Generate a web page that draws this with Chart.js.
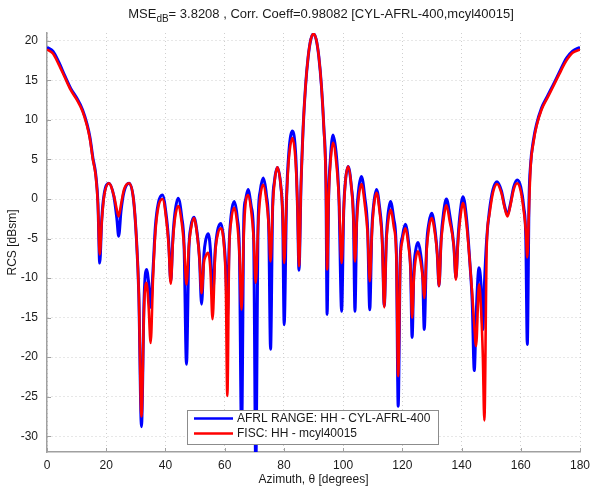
<!DOCTYPE html>
<html><head><meta charset="utf-8">
<script src="https://cdn.jsdelivr.net/npm/chart.js@4.4.0/dist/chart.umd.min.js"></script>
<style>html,body{margin:0;padding:0;background:#fff;} canvas{display:block;}</style>
</head><body>
<canvas id="c" width="590" height="491"></canvas>
<script>
const azimuth = [
  0, 2, 4, 6, 8, 10, 12, 13.5, 14.5, 15.5,
  16.5, 17.2, 17.8, 18.5, 19.3, 20.9, 22.6, 23.6, 24.2, 25.0,
  26.0, 27.7, 29.2, 30.2, 31.0, 31.9, 32.8, 33.6, 34.3, 35.0,
  35.8, 36.6, 37.6, 39.0, 40.4, 41.1, 41.8, 42.5, 43.2, 44.3,
  45.5, 46.3, 47.1, 47.9, 48.6, 49.6, 50.7, 51.5, 52.2, 53.0,
  53.6, 54.4, 55.2, 55.9, 56.8, 57.6, 58.7, 59.8, 60.4, 60.9,
  61.5, 62.2, 63.2, 64.3, 65.0, 65.7, 66.5, 67.0, 67.9, 69.0,
  69.8, 70.5, 71.3, 72.0, 73.0, 74.1, 74.9, 75.5, 76.2, 76.8,
  77.8, 79.0, 79.6, 80.1, 80.9, 81.7, 82.9, 84.0, 84.6, 85.1,
  85.8, 86.5, 87.3, 88.2, 89.1, 90.0, 90.9, 91.8, 92.7, 93.5,
  94.2, 94.6, 95.1, 95.7, 96.6, 97.8, 98.6, 99.5, 100.2, 100.8,
  101.7, 102.8, 103.5, 104.0, 104.6, 105.2, 106.2, 107.3, 108.3, 109.0,
  109.7, 110.3, 111.3, 112.3, 113.2, 113.9, 114.6, 115.1, 116.0, 117.1,
  118.0, 118.6, 119.3, 120.0, 121.0, 122.1, 122.8, 123.3, 123.9, 124.5,
  125.3, 126.2, 126.9, 127.4, 128.2, 129.0, 129.9, 131.0, 131.8, 132.4,
  133.1, 133.9, 134.9, 136.0, 137.4, 138.1, 138.8, 139.6, 140.5, 141.7,
  142.8, 143.6, 144.3, 144.9, 145.9, 146.6, 147.2, 147.7, 148.5, 149.4,
  150.6, 152.0, 153.5, 154.5, 155.5, 156.5, 157.6, 158.8, 160.0, 161.0,
  161.7, 162.2, 162.8, 163.3, 164.3, 165.3, 167.0, 169.0, 170.9, 173.0,
  175.4, 177.5, 180
];
const afrlRange = [
  19.2, 18.7, 17.3, 15.6, 14.0, 12.8, 11.3, 9.5, 7.8, 5.2,
  3.0, -0.5, -8.1, -2.5, 0.6, 2.0, 0.3, -2.5, -4.7, -1.5,
  0.9, 2.0, 0.0, -5.0, -12, -28.8, -12.5, -8.9, -10.5, -13.7,
  -9, -3.5, -0.5, 0.5, -2.5, -5.5, -10.4, -5, -1.8, 0.1,
  -2.3, -6, -20.9, -6.5, -3.5, -2.3, -4.3, -7.5, -13.3, -7,
  -5.2, -4.4, -6.5, -12.5, -6.5, -4, -3.1, -5.5, -9, -15,
  -6, -2, -0.3, -2.5, -7, -30, -2, -0.2, 1.2, -1.0,
  -5, -34, -3, 1.0, 2.65, 0.5, -4, -19, -1, 2.2,
  4.0, 1.5, -2.5, -15.9, 0, 6.0, 8.6, 5.5, -1, -9,
  2, 9, 14.2, 18.0, 20.2, 20.9, 20.2, 18.0, 14.2, 9,
  2, -14.6, 0, 5, 8.1, 5.2, 0, -14.2, -1.5, 2.3,
  4.1, 1.5, -2.5, -14.2, -2.5, 1, 2.85, 0.3, -4, -14.0,
  -4, -0.8, 1.2, -1, -5, -13.5, -5, -2.2, -0.3, -2.5,
  -7, -26.2, -7.5, -4.8, -3.2, -5.5, -9, -17.5, -9, -6.5,
  -5.5, -7, -10, -16.5, -6, -3, -1.8, -3.8, -7, -11,
  -5, -1.8, 0.0, -2, -6, -10, -5, -1.5, 0.3, -2.5,
  -8, -13, -21.7, -15, -8.7, -11, -16.5, -11, -5, -1.5,
  1.2, 2.2, 1.0, -0.8, -2.0, -0.6, 1.5, 2.4, 1.5, -1,
  -5, -18.4, 0, 4.3, 7.5, 9.4, 11.5, 13.0, 14.4, 16.0,
  17.8, 18.7, 19.2
];
const fiscHH = [
  18.9, 18.4, 17.0, 15.4, 13.8, 12.6, 11.1, 9.3, 7.6, 5.0,
  2.8, -0.8, -7.0, -2.8, 0.4, 2.0, 0.4, -1.4, -2.2, -0.7,
  1.2, 2.0, 0.0, -5.0, -12, -27.5, -13.5, -10.6, -13.5, -18.2,
  -10, -4.2, -1.0, 0.0, -3.0, -6.0, -10.7, -5.5, -2.5, -0.9,
  -3.0, -6, -10.8, -6, -3.8, -2.4, -4.5, -7.5, -11.9, -8,
  -7.2, -6.8, -9, -15.2, -7, -4.6, -3.7, -6, -11, -24.9,
  -7, -2.8, -1.1, -3.3, -7, -14.0, -4, -0.8, 0.5, -1.6,
  -5, -10.6, -3.5, 0.2, 1.8, -0.2, -3.5, -7.9, -1.2, 2.0,
  4.0, 1.5, -2, -8.1, 0, 5.2, 7.7, 4.5, -1, -8.5,
  2, 9, 14.2, 18.0, 20.2, 20.9, 20.2, 18.0, 14.2, 9,
  2, -8.9, 0, 4.5, 7.1, 4.2, 0, -8.1, -1.5, 2.3,
  4.1, 1.5, -2.5, -7.9, -3, 0, 1.9, -0.6, -4.5, -10.4,
  -4.5, -1.2, 0.8, -1.5, -5.5, -13.7, -5.5, -3.2, -1.35, -3.5,
  -7.5, -22.4, -8, -5.3, -3.7, -6, -9, -15.0, -10, -7.6,
  -6.6, -8, -10, -12.5, -6.5, -3.6, -2.4, -4.3, -7, -11,
  -5.5, -2.6, -0.8, -2.8, -6, -10.2, -5.5, -2.3, -0.5, -3.3,
  -8, -12, -16, -18.6, -10.8, -14, -20, -28.0, -6, -2,
  0.8, 1.9, 0.7, -1, -2.2, -0.8, 1.2, 2.0, 1.0, -1.5,
  -4, -7.4, -1, 4.0, 7.2, 9.2, 11.3, 12.8, 14.2, 15.8,
  17.5, 18.5, 18.9
];
const xTickValues = [0, 20, 40, 60, 80, 100, 120, 140, 160, 180];
const yTickValues = [-30, -25, -20, -15, -10, -5, 0, 5, 10, 15, 20];
const seriesNames = ['AFRL RANGE: HH - CYL-AFRL-400', 'FISC: HH - mcyl40015'];
const seriesColors = ['#0000ff', '#ff0000'];
const titleParts = ['MSE', 'dB', '= 3.8208 , Corr. Coeff=0.98082 [CYL-AFRL-400,mcyl40015]'];
const xAxisTitle = 'Azimuth, \u03b8 [degrees]';
const yAxisTitle = 'RCS [dBsm]';

const FONT = '"Liberation Sans", Arial, sans-serif';
const TXT = '#1a1a1a';
const AXC = '#a0a0a0';

const overlay = {
  id: 'overlay',
  afterDraw(chart) {
    const ctx = chart.ctx, a = chart.chartArea;
    const xs = chart.scales.x, ys = chart.scales.y;
    ctx.save();
    // inner tick marks
    ctx.strokeStyle = AXC; ctx.lineWidth = 1;
    ctx.beginPath();
    yTickValues.forEach(v => { const y = Math.round(ys.getPixelForValue(v)) + 0.5; ctx.moveTo(a.left, y); ctx.lineTo(a.left + 4, y); });
    xTickValues.forEach(v => { const x = Math.round(xs.getPixelForValue(v)) + 0.5; ctx.moveTo(x, a.bottom); ctx.lineTo(x, a.bottom - 4); });
    ctx.stroke();
    // title
    ctx.fillStyle = TXT; ctx.textBaseline = 'alphabetic';
    const f1 = '13px ' + FONT, f2 = '10px ' + FONT, f3 = '12px ' + FONT, fl = '12px ' + FONT;
    ctx.font = f1; const w1 = ctx.measureText(titleParts[0]).width, w3 = ctx.measureText(titleParts[2]).width;
    ctx.font = f2; const w2 = ctx.measureText(titleParts[1]).width;
    let tx = 321 - (w1 + w2 + w3) / 2;
    const ty = 18;
    ctx.font = f1; ctx.textAlign = 'left'; ctx.fillText(titleParts[0], tx, ty); tx += w1;
    ctx.font = f2; ctx.fillText(titleParts[1], tx, ty + 4); tx += w2;
    ctx.font = f1; ctx.fillText(titleParts[2], tx, ty);
    // axis titles
    ctx.font = f3; ctx.textAlign = 'center'; ctx.textBaseline = 'middle';
    ctx.fillText(xAxisTitle, (a.left + a.right) / 2, 480);
    ctx.save(); ctx.translate(13, (a.top + a.bottom) / 2); ctx.rotate(-Math.PI / 2);
    ctx.fillText(yAxisTitle, 0, 0); ctx.restore();
    // legend
    const lx = 187.5, ly = 410.5, lw = 251, lh = 34;
    ctx.fillStyle = '#fff'; ctx.fillRect(lx, ly, lw, lh);
    ctx.strokeStyle = '#8c8c8c'; ctx.lineWidth = 1; ctx.strokeRect(lx, ly, lw, lh);
    const rows = [418.5, 433.5];
    seriesNames.forEach((name, i) => {
      ctx.strokeStyle = seriesColors[i]; ctx.lineWidth = 2.5;
      ctx.beginPath(); ctx.moveTo(194, rows[i]); ctx.lineTo(233, rows[i]); ctx.stroke();
      ctx.fillStyle = TXT; ctx.font = fl; ctx.textAlign = 'left'; ctx.textBaseline = 'middle';
      ctx.fillText(name, 237, rows[i] + 0.5);
    });
    ctx.restore();
  }
};

const mk = arr => azimuth.map((x, i) => ({ x: x, y: arr[i] }));

new Chart(document.getElementById('c'), {
  type: 'line',
  data: {
    datasets: [
      { label: seriesNames[0], data: mk(afrlRange), borderColor: seriesColors[0], borderWidth: 3,
        pointRadius: 0, cubicInterpolationMode: 'monotone', order: 1, fill: false },
      { label: seriesNames[1], data: mk(fiscHH), borderColor: seriesColors[1], borderWidth: 2.6,
        pointRadius: 0, cubicInterpolationMode: 'monotone', order: 0, fill: false }
    ]
  },
  options: {
    responsive: false, animation: false, events: [],
    layout: { padding: { left: 0, top: 33, right: 0, bottom: 0 } },
    plugins: { legend: { display: false }, tooltip: { enabled: false }, title: { display: false } },
    scales: {
      x: {
        type: 'linear', min: 0, max: 180,
        afterBuildTicks: s => { s.ticks = xTickValues.map(v => ({ value: v })); },
        afterFit: s => { s.height = 39; s.paddingLeft = 0; s.paddingRight = 10; },
        grid: { color: '#cfcfcf', lineWidth: 1, drawTicks: false, tickLength: 0 },
        border: { display: true, color: AXC, width: 1.5, dash: [1, 3], dashOffset: 0 },
        ticks: { padding: 6, color: TXT, font: { family: FONT, size: 12 }, maxRotation: 0, autoSkip: false }
      },
      y: {
        type: 'linear', min: -32, max: 21,
        afterBuildTicks: s => { s.ticks = yTickValues.map(v => ({ value: v })); },
        afterFit: s => { s.width = 47; s.paddingTop = 0; s.paddingBottom = 0; },
        grid: { color: '#cfcfcf', lineWidth: 1, drawTicks: false, tickLength: 0 },
        border: { display: true, color: AXC, width: 1.5, dash: [1, 3] },
        ticks: { padding: 9, color: TXT, font: { family: FONT, size: 12 }, autoSkip: false }
      }
    }
  },
  plugins: [overlay]
});
</script>
</body></html>
